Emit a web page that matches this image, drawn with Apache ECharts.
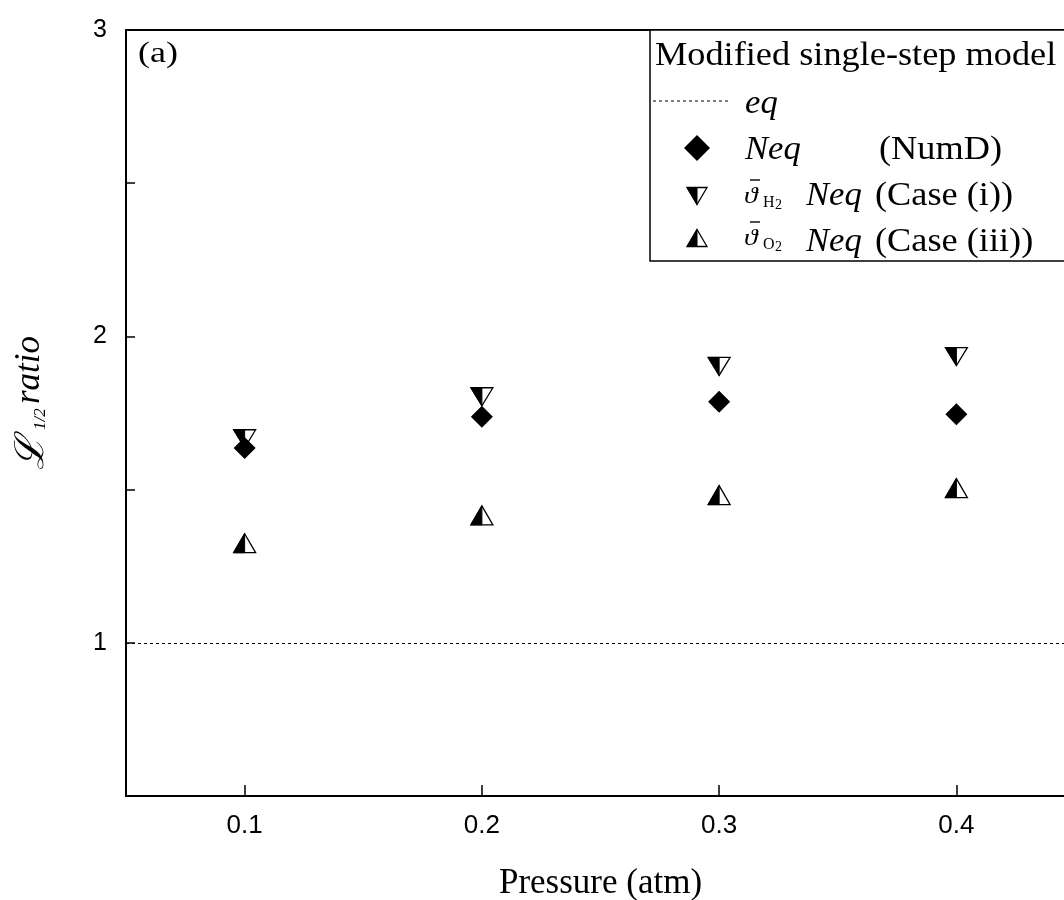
<!DOCTYPE html>
<html>
<head>
<meta charset="utf-8">
<script src="https://cdn.jsdelivr.net/npm/echarts@6/dist/echarts.min.js"></script>
<style>
  html, body { margin: 0; padding: 0; background: #fff; }
  #chart { width: 1064px; height: 900px; }
</style>
</head>
<body>
<div id="chart"></div>
<script>
// Pressure values (atm)
const pressure = [0.1, 0.2, 0.3, 0.4];
// L_1/2 ratio, Neq (NumD)
const neqNumD = [1.636, 1.738, 1.787, 1.746];
// L_1/2 ratio, theta_H2 Neq (Case (i))
const neqCaseI = [1.666, 1.803, 1.902, 1.934];
// L_1/2 ratio, theta_O2 Neq (Case (iii))
const neqCaseIII = [1.325, 1.416, 1.482, 1.505];
// Equilibrium reference level
const eqLevel = 1;
const xTicks = [0.1, 0.2, 0.3, 0.4];

const pairs = (ys) => pressure.map((x, i) => [x, ys[i]]);

const serif = "'Liberation Serif', 'Times New Roman', serif";
const sans = "'Liberation Sans', Arial, sans-serif";

// half-filled triangle: left half black, right half white with outline
function triPoints(dir, cx, cy, w, h) {
  if (dir === 'down') {
    return {
      full: [[cx - w, cy - h], [cx + w, cy - h], [cx, cy + h]],
      half: [[cx - w, cy - h], [cx, cy - h], [cx, cy + h]]
    };
  }
  return {
    full: [[cx, cy - h], [cx + w, cy + h], [cx - w, cy + h]],
    half: [[cx, cy - h], [cx, cy + h], [cx - w, cy + h]]
  };
}
function triShapes(pts) {
  return [
    { type: 'polygon', shape: { points: pts.full }, style: { fill: '#fff', stroke: '#000', lineWidth: 1.3 } },
    { type: 'polygon', shape: { points: pts.half }, style: { fill: '#000', stroke: '#000', lineWidth: 1 } }
  ];
}
function halfTriangle(dir, w, h) {
  return function (params, api) {
    const p = api.coord([api.value(0), api.value(1)]);
    return { type: 'group', children: triShapes(triPoints(dir, p[0], p[1], w, h)) };
  };
}

const chart = echarts.init(document.getElementById('chart'), null, { renderer: 'canvas' });

// serif text helper; the typeface used here is a touch wider than Liberation Serif
function txt(x, y, text, size, italic, sx) {
  return {
    type: 'text', x: x, y: y, scaleX: sx || 1,
    style: {
      text: text, fill: '#000', font: (italic ? 'italic ' : '') + size + 'px ' + serif,
      textVerticalAlign: 'middle'
    }
  };
}
// theta with bar and two-part subscript
function thetaBar(x, y, sub) {
  return [
    txt(x, y + 2, '\u03D1', 24, true, 1.15),
    { type: 'line', shape: { x1: x + 6, y1: y - 15, x2: x + 16, y2: y - 15 }, style: { stroke: '#000', lineWidth: 1.4 } },
    txt(x + 19, y + 8, sub, 16, false),
    txt(x + 31, y + 10, '2', 14, false)
  ];
}

const LX = 650, LY = 30;
const legendEls = [
  { type: 'rect', shape: { x: LX, y: LY, width: 430, height: 231 },
    style: { fill: '#fff', stroke: '#000', lineWidth: 1.5 } },
  txt(655, 56, 'Modified single-step model', 33, false, 1.1),
  { type: 'line', shape: { x1: 653, y1: 101, x2: 731, y2: 101 },
    style: { stroke: '#000', lineWidth: 1, lineDash: [3, 3] } },
  txt(745, 104, 'eq', 33, true, 1.05),
  { type: 'polygon', shape: { points: [[697, 135], [710, 148], [697, 161], [684, 148]] }, style: { fill: '#000' } },
  txt(745, 150, 'Neq', 33, true, 1.05),
  txt(879, 150, '(NumD)', 33, false, 1.1)
].concat(
  triShapes(triPoints('down', 697, 196, 10, 8.5)),
  triShapes(triPoints('up', 697, 238, 10, 8.5)),
  thetaBar(744, 195, 'H'),
  thetaBar(744, 237, 'O'),
  [
    txt(806, 196, 'Neq', 33, true, 1.05),
    txt(875, 196, '(Case (i))', 33, false, 1.1),
    txt(806, 242, 'Neq', 33, true, 1.05),
    txt(875, 242, '(Case (iii))', 33, false, 1.1)
  ]
);

const option = {
  backgroundColor: '#fff',
  animation: false,
  grid: {
    left: 126, top: 30, right: -11, bottom: 104,
    outerBoundsMode: 'none', containLabel: false,
    show: true, borderColor: '#000', borderWidth: 2, backgroundColor: 'transparent'
  },
  xAxis: {
    type: 'value',
    min: 0.05,
    max: 0.45,
    name: 'Pressure (atm)',
    nameLocation: 'middle',
    nameGap: 70,
    nameTextStyle: { fontFamily: serif, fontSize: 35, color: '#000' },
    axisLine: { show: true, onZero: false, lineStyle: { color: '#000', width: 2 } },
    axisTick: { show: true, inside: true, length: 11, customValues: xTicks, lineStyle: { color: '#000', width: 1.5 } },
    axisLabel: { customValues: xTicks, margin: 17, fontFamily: sans, fontSize: 26, color: '#000',
      formatter: (v) => v.toFixed(1) },
    splitLine: { show: false }
  },
  yAxis: {
    type: 'value',
    min: 0.5,
    max: 3,
    interval: 0.5,
    axisLine: { show: true, onZero: false, lineStyle: { color: '#000', width: 2 } },
    axisTick: { show: true, inside: true, length: 9, lineStyle: { color: '#000', width: 1.5 } },
    axisLabel: { margin: 19, fontFamily: sans, fontSize: 25, color: '#000',
      formatter: (v) => (Math.abs(v - Math.round(v)) < 1e-9 ? String(Math.round(v)) : '') },
    splitLine: { show: false }
  },
  graphic: [
    txt(138, 54, '(a)', 30, false, 1.2),
    {
      type: 'group', x: 32, y: 470, rotation: Math.PI / 2,
      children: [
        txt(0, 0, '\u2112', 40, true),
        txt(40, 9, '1/2', 17, true),
        txt(66, -2, 'ratio', 35, true)
      ]
    }
  ].concat(legendEls),
  series: [
    {
      name: 'eq',
      type: 'line',
      data: [],
      markLine: {
        silent: true,
        symbol: 'none',
        label: { show: false },
        lineStyle: { color: '#000', type: [3, 3], width: 1, opacity: 1 },
        data: [{ yAxis: eqLevel }]
      }
    },
    {
      name: 'Case (i)',
      type: 'custom',
      renderItem: halfTriangle('down', 11, 9),
      data: pairs(neqCaseI),
      z: 3
    },
    {
      name: 'Case (iii)',
      type: 'custom',
      renderItem: halfTriangle('up', 11, 9.5),
      data: pairs(neqCaseIII),
      z: 3
    },
    {
      name: 'NumD',
      type: 'scatter',
      symbol: 'diamond',
      symbolSize: 22,
      itemStyle: { color: '#000', opacity: 1 },
      data: pairs(neqNumD),
      z: 4
    }
  ]
};

chart.setOption(option);
</script>
</body>
</html>
